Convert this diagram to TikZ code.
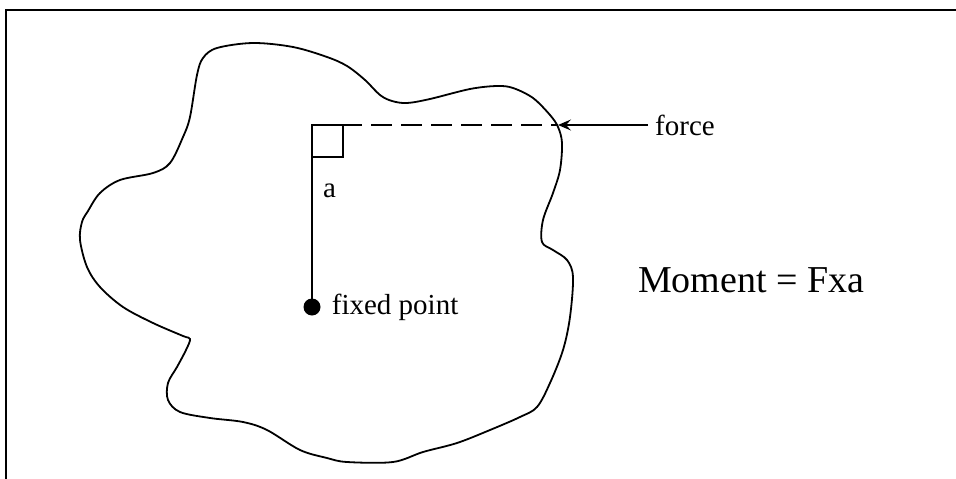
\documentclass[tikz,border=0pt]{standalone}
\usepackage{fontspec}
\setmainfont{Liberation Serif}
\usetikzlibrary{arrows.meta,positioning}

\begin{document}
\begin{tikzpicture}[
  x=1pt, y=-1pt,
  >=Stealth,
  outline/.style={line width=1.8pt, black},
  armline/.style={line width=1.5pt, black},
  lbl/.style={font=\fontsize{29}{34}\selectfont, inner sep=0pt},
  biglbl/.style={font=\fontsize{38}{44}\selectfont, inner sep=0pt, anchor=base west}
]
  \useasboundingbox (0,0) rectangle (956,479);

  % --- FRAME (top and left edges only) ---
  \draw[line width=2.5pt] (6,479) -- (6,10) -- (956,10);

  % --- BODY OUTLINE ---
  \draw[outline] plot[smooth cycle, tension=0.55] coordinates {
    (190,117) (197,75) (203,58) (217,48) (253,43) (293,47) (327,57)
    (347,66) (365,80) (380,95) (392,101) (407,103) (430,99) (470,89)
    (497,86) (513,88) (533,98) (550,115) (558,127) (562,143) (560,170)
    (553,193) (543,220) (542,242) (553,250) (567,260) (573,277) (570,317)
    (563,350) (550,383) (537,407) (520,417) (490,430) (457,443) (423,452)
    (393,462) (347,462) (327,458) (300,450) (267,430) (243,422) (210,418)
    (180,412) (168,400) (168,383) (177,367) (186,350) (190,339) (183,336)
    (153,323) (123,307) (100,287) (87,267) (80,240) (82,222) (88,211)
    (100,193) (120,180) (153,173) (170,163) (183,137)
  };

  % --- LEVER ARM ---
  \node[circle, fill=black, inner sep=0pt, minimum size=17pt] (pivot) at (312,307) {};
  \coordinate (corner) at (312,125);
  \coordinate (solidend) at (362,125);
  \coordinate (contact) at (558,125);

  \draw[armline] (pivot.center) -- (corner) -- (solidend);
  \draw[armline] (corner) ++(0,32) -| (343,125);
  \draw[armline, dash pattern=on 21pt off 9pt, dash phase=21pt] (solidend) -- (contact);

  % --- FORCE ---
  \node[lbl, anchor=west] (forcelbl) at (655,125) {force};
  \draw[armline, -{Stealth[length=13pt,width=11pt,inset=5pt]}, shorten <=7pt]
    (forcelbl.west) -- (contact);

  % --- LABELS ---
  \node[lbl, anchor=base west] (armlbl) at (323,197) {a};
  \node[lbl, right=11pt of pivot] (pivotlbl) {fixed point};
  \node[biglbl] (moment) at (638,292) {Moment = Fxa};

\end{tikzpicture}
\end{document}
